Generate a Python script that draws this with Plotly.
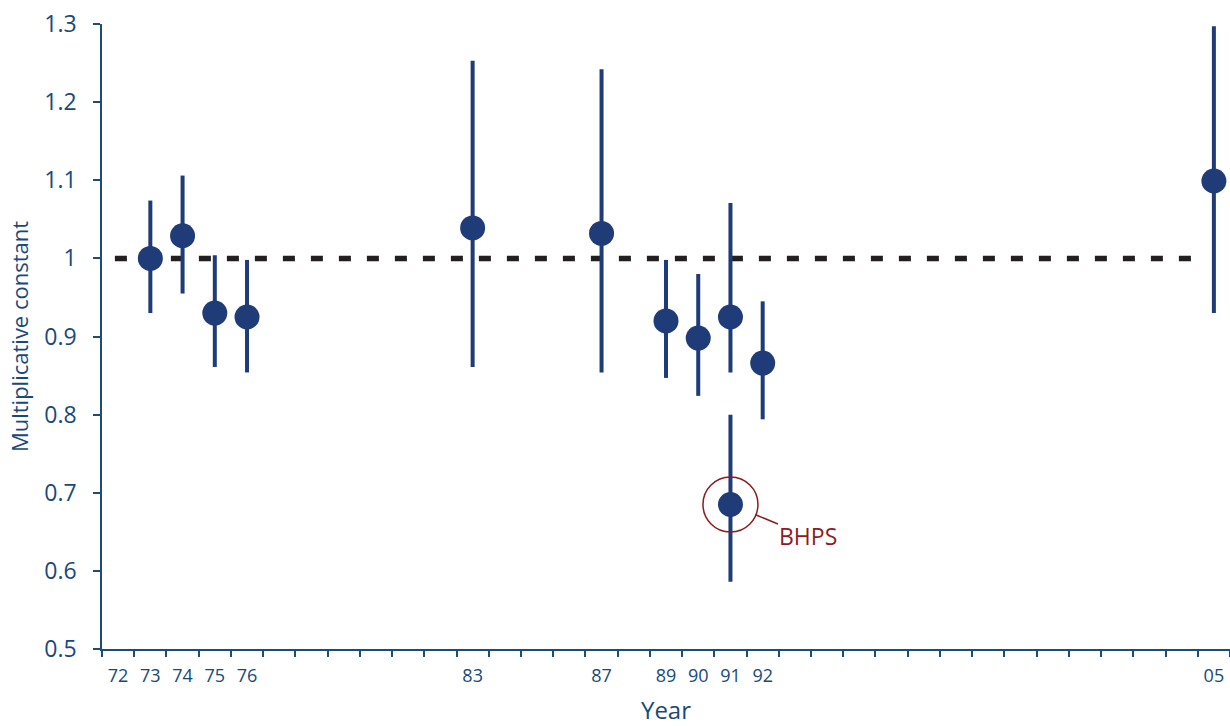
import plotly.graph_objects as go

# ---- data ----
# axis slots (one per tick interval); only some are labelled
slot_labels = ["72", "73", "74", "75", "76", "", "", "", "", "", "", "83", "", "", "",
               "87", "", "89", "90", "91", "92", "", "", "", "", "", "", "", "", "", "",
               "", "", "", "05"]
point_years = ["73", "74", "75", "76", "83", "87", "89", "90", "91", "91", "92", "05"]
estimates   = [1.000, 1.029, 0.930, 0.925, 1.039, 1.032, 0.920, 0.898, 0.925, 0.685, 0.866, 1.099]
upper       = [1.074, 1.106, 1.004, 0.998, 1.253, 1.242, 0.998, 0.980, 1.071, 0.800, 0.945, 1.297]
lower       = [0.930, 0.955, 0.861, 0.854, 0.861, 0.854, 0.847, 0.824, 0.854, 0.586, 0.794, 0.930]
highlight_index = 9
highlight_label = "BHPS"
ref_value = 1.0
y_ticks = [0.5, 0.6, 0.7, 0.8, 0.9, 1.0, 1.1, 1.2, 1.3]
y_ticktext = ["0.5", "0.6", "0.7", "0.8", "0.9", "1", "1.1", "1.2", "1.3"]

# ---- styling ----
AXIS = "#1c4c78"
TEXT = "#174a7a"
MARK = "#1f3c78"
RED = "#8c1c1f"
FONT = "Open Sans"

xpos = [slot_labels.index(y) for y in point_years]
labelled = [i for i, s in enumerate(slot_labels) if s]

fig = go.Figure()
fig.add_trace(go.Scatter(
    x=xpos, y=estimates, mode="markers",
    marker=dict(size=25, color=MARK, line=dict(width=0)),
    error_y=dict(type="data", symmetric=False,
                 array=[u - e for u, e in zip(upper, estimates)],
                 arrayminus=[e - l for e, l in zip(estimates, lower)],
                 color=MARK, thickness=4, width=0),
    showlegend=False, hoverinfo="skip",
))

# reference line at 1
fig.add_shape(type="line", xref="x", yref="y", x0=-0.1, x1=len(slot_labels) - 1.35,
              y0=ref_value, y1=ref_value, layer="below",
              line=dict(color="#231f20", width=5.5, dash="12px,16px"))

# highlight circle + label
hx, hy = xpos[highlight_index], estimates[highlight_index]
fig.add_shape(type="circle", xref="x", yref="y", xsizemode="pixel", ysizemode="pixel",
              xanchor=hx, yanchor=hy, x0=-27.5, x1=27.5, y0=-27.5, y1=27.5,
              line=dict(color=RED, width=1.5), layer="above")
fig.add_annotation(x=hx, y=hy, xref="x", yref="y", text=highlight_label,
                   showarrow=True, arrowhead=0, arrowwidth=1.5, arrowcolor=RED,
                   ax=78, ay=32, standoff=27, font=dict(family=FONT, size=23, color=RED))

fig.update_layout(
    width=1230, height=726,
    margin=dict(l=102, r=0, t=24, b=77),
    paper_bgcolor="white", plot_bgcolor="white",
    font=dict(family=FONT, color=TEXT),
    xaxis=dict(
        range=[-0.5, len(slot_labels) - 0.5],
        tickmode="array", tickvals=labelled, ticktext=[slot_labels[i] for i in labelled],
        ticks="", ticklabelstandoff=10,
        tickfont=dict(family=FONT, size=18, color=TEXT),
        minor=dict(tickmode="array", tickvals=[i - 0.5 for i in range(len(slot_labels) + 1)],
                   ticks="outside", ticklen=6, tickwidth=1.5, tickcolor=AXIS, showgrid=False),
        showgrid=False, zeroline=False, showline=True, linecolor=AXIS, linewidth=1.5,
        title=dict(text="Year", font=dict(family=FONT, size=24, color=TEXT), standoff=19),
        automargin=False,
    ),
    yaxis=dict(
        range=[0.5, 1.3], tickmode="array", tickvals=y_ticks, ticktext=y_ticktext,
        ticks="outside", ticklen=7, tickwidth=1.5, tickcolor=AXIS, ticklabelstandoff=12,
        tickfont=dict(family=FONT, size=23, color=TEXT),
        showgrid=False, zeroline=False, showline=True, linecolor=AXIS, linewidth=1.5,
        title=dict(text="Multiplicative constant", font=dict(family=FONT, size=22, color=TEXT), standoff=10),
        automargin=False,
    ),
)

# remove the default 8px page margin so the figure fills the window exactly
fig.write_html("out.html", config={"displayModeBar": False},
               post_script="document.body.style.margin='0';document.body.style.overflow='hidden';")
